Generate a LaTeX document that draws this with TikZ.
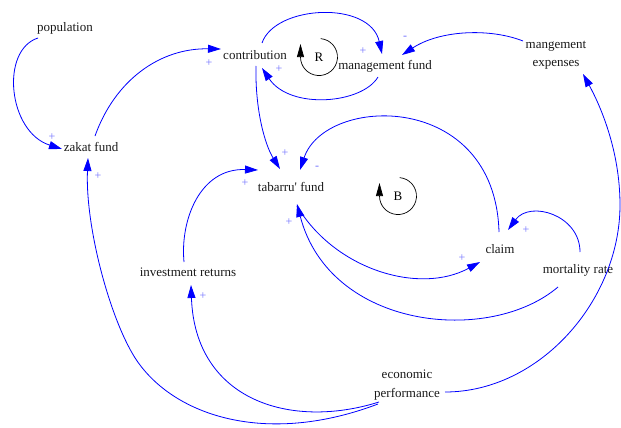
\documentclass[tikz,border=0pt]{standalone}
\usepackage{fontspec}
\setmainfont{Liberation Serif}
\usetikzlibrary{arrows.meta}
\begin{document}
\begin{tikzpicture}[x=1pt,y=-1pt,
  var/.style={font=\fontsize{13}{18.5}\selectfont, text=black!90, align=center, inner sep=0pt},
  link/.style={draw=blue, line width=0.8pt, -{Triangle[length=13pt,width=8pt]}},
  pol/.style={text=blue!55, font=\fontsize{12}{12}\selectfont, inner sep=0pt},
  loopname/.style={font=\fontsize{13}{13}\selectfont, inner sep=0pt},
  loopa/.style={draw=black, line width=0.7pt, -{Triangle[length=13pt,width=7pt]}}]
\useasboundingbox (0,0) rectangle (621,428);

% variables
\node[var] (pop)    at (65,28)   {population};
\node[var] (contrib) at (255,55) {contribution};
\node[var] (mgmt)   at (385,66)  {management fund};
\node[var] (mexp)   at (556,55)  {mangement\\expenses};
\node[var] (zakat)  at (91,147)  {zakat fund};
\node[var] (tab)    at (291,187) {tabarru\textquotesingle{} fund};
\node[var] (claim)  at (500,249) {claim};
\node[var] (mort)   at (578,270) {mortality rate};
\node[var] (inv)    at (188,272) {investment returns};
\node[var] (econ)   at (407,385) {economic\\performance};

% loop markers
\node[loopname] (Rl) at (319,57) {R};
\node[loopname] (Bl) at (398,196) {B};
\draw[loopa] ([shift={(1.6,-18.4)}]Rl.center) arc[start angle=-85, end angle=180, radius=18.5] -- ++(0,-13);
\draw[loopa] ([shift={(1.6,-18.4)}]Bl.center) arc[start angle=-85, end angle=180, radius=18.5] -- ++(0,-13);

% links
\draw[link] ([shift={(-27,10)}]pop.center) .. controls (0,50) and (8,132) .. ([shift={(-29,2)}]zakat.center);
\draw[link] ([shift={(4,-11)}]zakat.center) .. controls (115,80) and (160,48) .. ([shift={(-34,-6)}]contrib.center);
\draw[link] ([shift={(7,-12)}]contrib.center) .. controls (275,5) and (370,0) .. ([shift={(-3,-12)}]mgmt.center);
\draw[link] ([shift={(-7,11)}]mgmt.center) .. controls (362,104) and (290,110) .. ([shift={(7,13)}]contrib.center);
\draw[link] ([shift={(-33,-14)}]mexp.center) .. controls (490,28) and (440,30) .. ([shift={(17,-11)}]mgmt.center);
\draw[link] ([shift={(1,11)}]contrib.center) .. controls (255,110) and (265,145) .. ([shift={(-11,-18)}]tab.center);
\draw[link] ([shift={(-1,-17)}]claim.center) .. controls (495,90) and (325,95) .. ([shift={(9,-17)}]tab.center);
\draw[link] ([shift={(-4,-10)}]inv.center) .. controls (180,220) and (200,168) .. ([shift={(-33,-17)}]tab.center);
\draw[link] ([shift={(6,19)}]tab.center) .. controls (335,270) and (420,295) .. ([shift={(-20,13)}]claim.center);
\draw[link] ([shift={(-20,17)}]mort.center) .. controls (490,345) and (330,330) .. ([shift={(6,17)}]tab.center);
\draw[link] ([shift={(2,-18)}]mort.center) .. controls (580,215) and (530,200) .. ([shift={(8,-19)}]claim.center);
\coordinate (ea) at (620,205);
\draw[link] ([shift={(38,7)}]econ.center) .. controls (540,392) and (620,300) .. (ea)
  .. controls (620,150) and (600,105) .. ([shift={(27,19)}]mexp.center);
\draw[link] ([shift={(-28,17)}]econ.center) .. controls (290,430) and (195,400) .. ([shift={(3,13)}]inv.center);
\coordinate (ez) at (140,365);
\draw[link] ([shift={(-29,19)}]econ.center) .. controls (270,445) and (180,418) .. (ez)
  .. controls (113,330) and (85,230) .. ([shift={(-3,11)}]zakat.center);

% polarities
\node[pol] (p1)  at (52,137)  {+};
\node[pol] (p2)  at (209,63)  {+};
\node[pol] (p3)  at (279,69)  {+};
\node[pol] (p4)  at (363,51)  {+};
\node[pol] (p5)  at (405,38)  {-};
\node[pol] (p6)  at (285,153) {+};
\node[pol] (p7)  at (317,168) {-};
\node[pol] (p8)  at (245,183) {+};
\node[pol] (p9)  at (289,222) {+};
\node[pol] (p10) at (462,258) {+};
\node[pol] (p11) at (526,230) {+};
\node[pol] (p12) at (203,296) {+};
\node[pol] (p13) at (98,176)  {+};
\end{tikzpicture}
\end{document}
